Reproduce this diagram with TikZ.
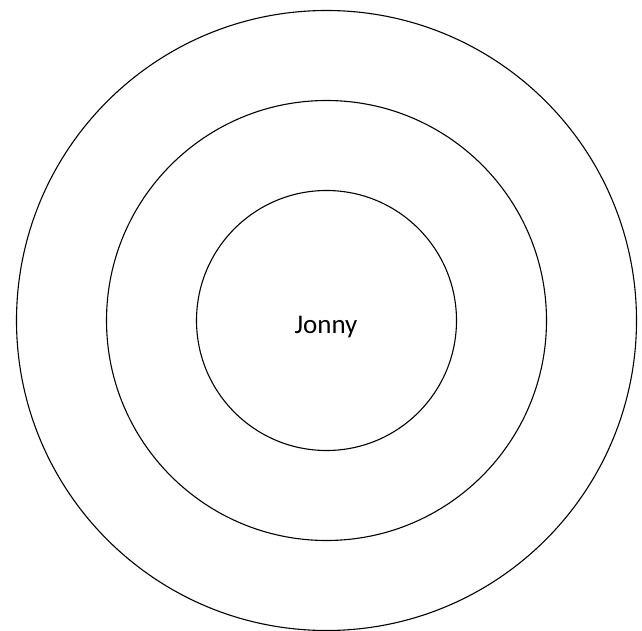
\documentclass[tikz,border=0pt]{standalone}
\usepackage{fontspec}
\setmainfont{Carlito}
\begin{document}
\begin{tikzpicture}[x=1pt,y=-1pt,
  ring/.style={draw=black,line width=1.1pt,circle,inner sep=0pt}]
\useasboundingbox (0,0) rectangle (642,631);
\fill[white] (0,0) rectangle (642,631);
\coordinate (c) at (326.5,320.5);
\node[ring,minimum size=620pt] (outer) at (c) {};
\node[ring,minimum size=440pt] (middle) at (c) {};
\node[ring,minimum size=260pt] (inner) at (c) {};
\node (label) at (326,327) {\fontsize{27}{30}\selectfont Jonny};
\end{tikzpicture}
\end{document}
